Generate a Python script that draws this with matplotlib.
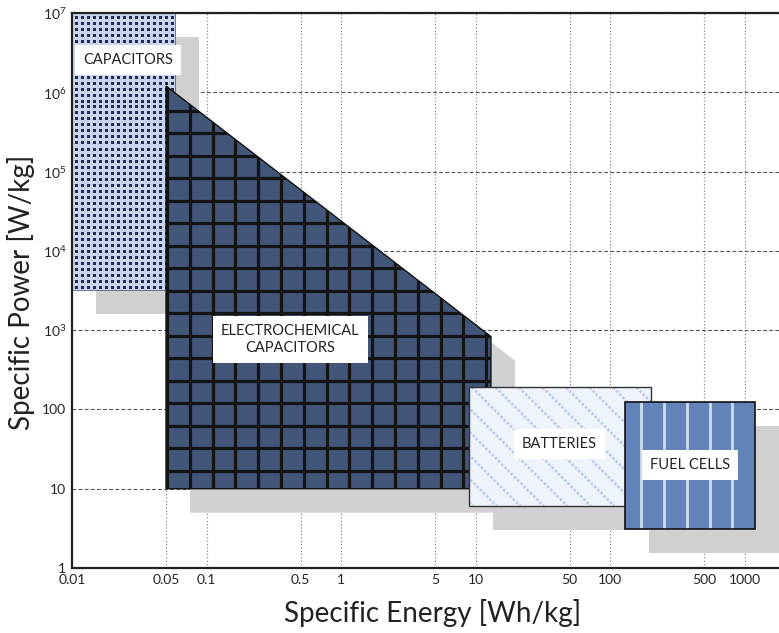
import numpy as np
import matplotlib
matplotlib.use('Agg')
import matplotlib.pyplot as plt
from matplotlib.patches import Polygon
from matplotlib.collections import LineCollection
from matplotlib import transforms

plt.rcParams['font.family'] = ['Lato', 'DejaVu Sans']
plt.rcParams['mathtext.fontset'] = 'custom'
plt.rcParams['mathtext.rm'] = 'Lato'

# Ragone plot regions: specific energy [Wh/kg] vs specific power [W/kg]
cap_energy = [0.01, 0.058, 0.058, 0.01]
cap_power = [3200, 3200, 1e7, 1e7]

ecc_energy = [0.05, 0.05, 13, 13]
ecc_power = [10, 1.2e6, 830, 10]

bat_energy = [9, 200, 200, 9]
bat_power = [6, 6, 190, 190]

fc_energy = [130, 1200, 1200, 130]
fc_power = [3.1, 3.1, 125, 125]

region_names = ['CAPACITORS', 'ELECTROCHEMICAL\nCAPACITORS', 'BATTERIES', 'FUEL CELLS']
name_x = [0.026, 0.42, 42, 390]
name_y = [2.55e6, 760, 36.6, 19.9]

x_ticks = [0.01, 0.05, 0.1, 0.5, 1, 5, 10, 50, 100, 500, 1000]
x_labels = ['0.01', '0.05', '0.1', '0.5', '1', '5', '10', '50', '100', '500', '1000']
y_ticks = [1, 10, 100, 1e3, 1e4, 1e5, 1e6, 1e7]
y_labels = ['1', '10', '100', '$10^3$', '$10^4$', '$10^5$', '$10^6$', '$10^7$']

W, H = 779, 633
fig = plt.figure(figsize=(W / 100, H / 100), dpi=100)
ax = fig.add_axes([72 / W, 65 / H, 707 / W, 555 / H])
ax.set_xscale('log')
ax.set_yscale('log')
ax.set_xlim(0.01, 1800)
ax.set_ylim(1, 1e7)
AXW, AXH = 707.0, 555.0

ax.set_xticks(x_ticks)
ax.set_xticklabels(x_labels)
ax.set_yticks(y_ticks)
ax.set_yticklabels(y_labels)
ax.minorticks_off()
ax.tick_params(length=0, labelsize=10, colors='#222222', pad=4)
ax.set_axisbelow(True)
ax.grid(axis='y', color='#555555', lw=0.8, ls=(0, (3.5, 2)))
ax.grid(axis='x', color='#777777', lw=0.8, ls=(0, (1, 2)))
for side in ['left', 'bottom', 'top']:
    ax.spines[side].set_linewidth(1.6)
    ax.spines[side].set_color('#222222')
ax.spines['right'].set_visible(False)

data2ax = ax.transData + ax.transAxes.inverted()
shadow = ax.transData + transforms.ScaledTranslation(0.24, -0.24, fig.dpi_scale_trans)


def corners(xs, ys):
    return np.column_stack([xs, ys])


def region(xs, ys, face, edge, lw, z):
    fill = Polygon(corners(xs, ys), closed=True, facecolor=face, edgecolor='none', zorder=z)
    ax.add_patch(fill)
    ax.add_patch(Polygon(corners(xs, ys), closed=True, facecolor='none',
                         edgecolor=edge, lw=lw, zorder=z + 0.2))
    return fill


def lines_px(segs, clip, **kw):
    # segments given in axes pixels
    segs = [[(x0 / AXW, y0 / AXH), (x1 / AXW, y1 / AXH)] for (x0, y0), (x1, y1) in segs]
    lc = LineCollection(segs, transform=ax.transAxes, **kw)
    ax.add_collection(lc)
    lc.set_clip_path(clip)
    return lc


def extent_px(xs, ys):
    pts = data2ax.transform(corners(xs, ys))
    return (pts[:, 0].min() * AXW, pts[:, 0].max() * AXW,
            pts[:, 1].min() * AXH, pts[:, 1].max() * AXH)


# shadows
for xs, ys in [(cap_energy, cap_power), (ecc_energy, ecc_power),
               (bat_energy, bat_power), (fc_energy, fc_power)]:
    ax.add_patch(Polygon(corners(xs, ys), closed=True, facecolor='#d0d1d0',
                         edgecolor='none', transform=shadow, zorder=1))

# capacitors: light blue with dark dots (snapped to whole pixels)
cap = region(cap_energy, cap_power, '#c9d5ef', '#56627f', 0.6, 2)
x0, x1, y0, y1 = extent_px(cap_energy, cap_power)
gx, gy = np.meshgrid(np.arange(round(x0) + 3.5, x1, 6), np.arange(round(y1) - 3.5, y0, -6))
dots, = ax.plot(gx.ravel() / AXW, gy.ravel() / AXH, 's', ms=2.16, color='#1f2c55',
                mew=0, transform=ax.transAxes, zorder=2.1)
dots.set_clip_path(cap)

# electrochemical capacitors: dark blue with black grid
ecc = region(ecc_energy, ecc_power, '#415679', '#111111', 1.0, 3)
x0, x1, y0, y1 = extent_px(ecc_energy, ecc_power)
vs = [((x, y0), (x, y1)) for x in np.arange(x0 + 1, x1, 22.8)]
hs = [((x0, y), (x1, y)) for y in np.arange(y0 + 18, y1, 22.5)]
lines_px(vs + hs, ecc, colors='#141414', linewidths=2.3, zorder=3.1)

# batteries: very light blue with dotted diagonals
bat = region(bat_energy, bat_power, '#eff3fb', '#333333', 1.0, 4)
x0, x1, y0, y1 = extent_px(bat_energy, bat_power)
span = y1 - y0
diag = [((c, y1), (c + span, y0)) for c in np.arange(x0 - span + 4, x1, 23.5)]
lines_px(diag, bat, colors='#b9cbee', linewidths=1.8, linestyles=(0, (1.1, 0.7)), zorder=4.1)

# fuel cells: mid blue with light vertical stripes
fc = region(fc_energy, fc_power, '#6283b8', '#111111', 1.2, 5)
x0, x1, y0, y1 = extent_px(fc_energy, fc_power)
stripes = [((x, y0), (x, y1)) for x in np.arange(x0 + 16, x1 - 4, 22.7)]
lines_px(stripes, fc, colors='#d0dcf1', linewidths=2.0, zorder=5.1)

for name, x, y in zip(region_names, name_x, name_y):
    ax.text(x, y, name, ha='center', va='center', fontsize=10.5, color='#222222',
            linespacing=1.25, zorder=7,
            bbox=dict(boxstyle='square,pad=0.55', facecolor='white', edgecolor='none'))

fig.text(433 / W, 1 - 613 / H, 'Specific Energy [Wh/kg]', ha='center', va='center',
         fontsize=20, color='#222222')
fig.text(21 / W, 1 - 292 / H, 'Specific Power [W/kg]', ha='center', va='center',
         rotation=90, fontsize=20, color='#222222')

fig.savefig('out.png', dpi=100)
